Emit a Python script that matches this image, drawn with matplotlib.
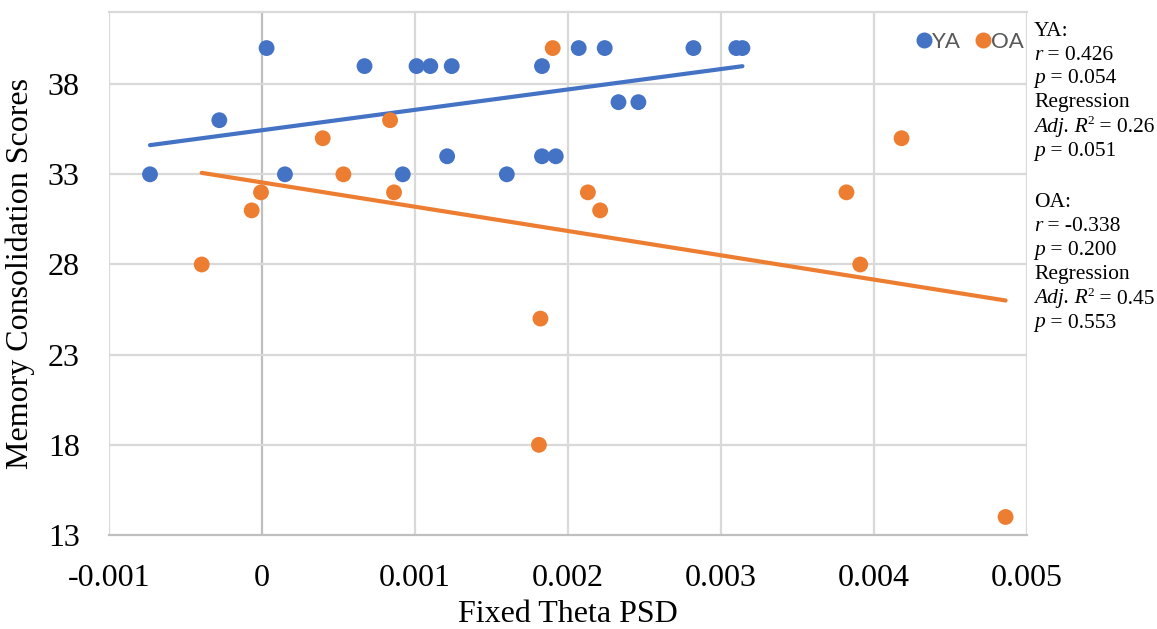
import numpy as np
import matplotlib
matplotlib.use("Agg")
import matplotlib.pyplot as plt
from matplotlib.lines import Line2D
from matplotlib.transforms import offset_copy

plt.rcParams['font.family'] = ['Liberation Serif', 'DejaVu Serif']

# ---- data ----
ya_x = [-0.000732, -0.000279, 0.00003, 0.00015, 0.00067, 0.00092, 0.00101, 0.00110,
        0.00124, 0.00121, 0.00160, 0.00183, 0.00183, 0.00192, 0.00207, 0.00224,
        0.00233, 0.00246, 0.00282, 0.00310, 0.00314]
ya_y = [33, 36, 40, 33, 39, 33, 39, 39, 39, 34, 33, 39, 34, 34, 40, 40, 37, 37, 40, 40, 40]

oa_x = [-0.000394, -0.0000675, -0.0000065, 0.000397, 0.000532, 0.000837, 0.000863,
        0.00181, 0.00182, 0.00190, 0.00213, 0.00221, 0.00382, 0.00391, 0.00418, 0.00486]
oa_y = [28, 31, 32, 35, 33, 36, 32, 18, 25, 40, 32, 31, 32, 28, 35, 14]

x_ticks = [-0.001, 0, 0.001, 0.002, 0.003, 0.004, 0.005]
x_tick_labels = ['-0.001', '0', '0.001', '0.002', '0.003', '0.004', '0.005']
y_ticks = [13, 18, 23, 28, 33, 38]

# each line: list of (text, style, superscript?) pieces, and pixel y
stats_lines = [
    ([('YA:', 'normal', False)], 31.5),
    ([('r', 'italic', False), (' = 0.426', 'normal', False)], 55),
    ([('p', 'italic', False), (' = 0.054', 'normal', False)], 78.5),
    ([('Regression', 'normal', False)], 103),
    ([('Adj. R', 'italic', False), ('2', 'normal', True), (' = 0.26', 'normal', False)], 127.5),
    ([('p', 'italic', False), (' = 0.051', 'normal', False)], 151.5),
    ([('OA:', 'normal', False)], 202.5),
    ([('r', 'italic', False), (' = -0.338', 'normal', False)], 226.5),
    ([('p', 'italic', False), (' = 0.200', 'normal', False)], 250.5),
    ([('Regression', 'normal', False)], 275),
    ([('Adj. R', 'italic', False), ('2', 'normal', True), (' = 0.45', 'normal', False)], 299),
    ([('p', 'italic', False), (' = 0.553', 'normal', False)], 323),
]

BLUE = '#4472C4'
ORANGE = '#ED7D31'
GRID = '#D9D9D9'
W, H = 1157, 629

fig = plt.figure(figsize=(W / 100, H / 100), dpi=100)
ax = fig.add_axes([109 / W, 1 - 535 / H, (1027 - 109) / W, (535 - 12) / H])

ax.set_xlim(-0.001, 0.005)
ax.set_ylim(13, 42)
ax.set_xticks(x_ticks)
ax.set_xticklabels(x_tick_labels)
ax.set_yticks(y_ticks)

for xv in x_ticks:
    ax.axvline(xv, color='#BFBFBF' if xv == 0 else GRID, lw=1.6, zorder=1)
for yv in y_ticks[1:]:
    ax.axhline(yv, color=GRID, lw=1.6, zorder=1)
ax.axhline(42, color=GRID, lw=1.6, zorder=1, clip_on=False)

for s in ['top', 'right', 'left']:
    ax.spines[s].set_visible(False)
ax.spines['bottom'].set_color('#BFBFBF')
ax.spines['bottom'].set_linewidth(1.6)
ax.spines['bottom'].set_zorder(1)

ax.tick_params(axis='both', length=0, labelsize=23, colors='black')
ax.tick_params(axis='x', pad=21)
ax.tick_params(axis='y', pad=21)

# trendlines (OLS)
for xs, ys, c in [(ya_x, ya_y, BLUE), (oa_x, oa_y, ORANGE)]:
    xs = np.array(xs); ys = np.array(ys)
    m, b = np.polyfit(xs, ys, 1)
    xl = np.array([xs.min(), xs.max()])
    ax.plot(xl, m * xl + b, color=c, lw=3.0, solid_capstyle='round', zorder=2)

ax.scatter(ya_x, ya_y, s=130, color=BLUE, edgecolors='none', zorder=3, clip_on=False)
ax.scatter(oa_x, oa_y, s=130, color=ORANGE, edgecolors='none', zorder=3, clip_on=False)

ax.set_xlabel('Fixed Theta PSD', fontsize=23, labelpad=5)
ax.set_ylabel('Memory Consolidation Scores', fontsize=23, labelpad=9)

handles = [Line2D([], [], marker='o', ls='none', color=BLUE, markersize=10.5),
           Line2D([], [], marker='o', ls='none', color=ORANGE, markersize=10.5)]
leg = ax.legend(handles, ['YA', 'OA'], ncol=2, frameon=False,
                loc='center right', bbox_to_anchor=(1024 / W, 1 - 42 / H),
                bbox_transform=fig.transFigure,
                prop={'family': 'Lato', 'size': 16}, handletextpad=-0.35,
                columnspacing=0.3, handlelength=1.4, borderaxespad=0, borderpad=0)
for t in leg.get_texts():
    t.set_color('#595959')

renderer = fig.canvas.get_renderer()
FS = 15.5
for pieces, ypix in stats_lines:
    xpix = 1034.0
    for txt, style, sup in pieces:
        if sup:
            t = fig.text(xpix / W, 1 - (ypix - 6) / H, txt, fontsize=FS * 0.62,
                         style=style, va='center', ha='left')
        else:
            t = fig.text(xpix / W, 1 - ypix / H, txt, fontsize=FS,
                         style=style, va='center', ha='left')
        bb = t.get_window_extent(renderer)
        xpix += bb.width

fig.savefig('out.png', dpi=100)
